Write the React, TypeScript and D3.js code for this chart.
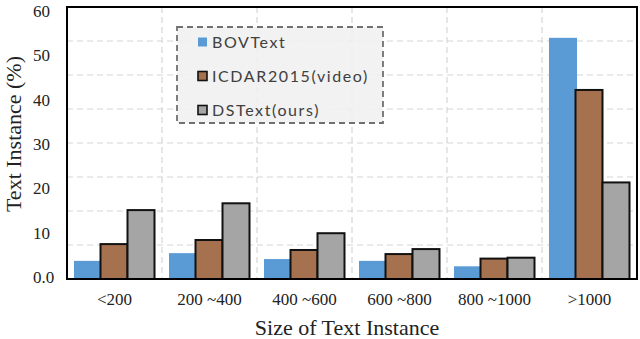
import React from 'react';
import * as d3 from 'd3';

const categories = ['<200', '200 ~400', '400 ~600', '600 ~800', '800 ~1000', '>1000'];
const seriesNames = ['BOVText', 'ICDAR2015(video)', 'DSText(ours)'];
const bovText = [4.0, 5.7, 4.4, 4.0, 2.8, 53.2];
const icdar2015 = [7.7, 8.6, 6.4, 5.5, 4.5, 41.7];
const dsText = [15.2, 16.7, 10.1, 6.6, 4.7, 21.3];
const yTicks = [0, 10, 20, 30, 40, 50, 60];
const yTickLabels = ['0.0', '10', '20', '30', '40', '50', '60'];

const colors = ['#5b9bd5', '#a5714e', '#a5a5a5'];
const strokes = ['none', '#111', '#111'];

const W = 640;
const H = 339;
const m = { left: 67, right: 637, top: 7, bottom: 279 };
const serif = "'Liberation Serif', 'Times New Roman', serif";

const App = () => {
  const values = [bovText, icdar2015, dsText];

  const x0 = d3.scaleBand().domain(categories).range([m.left, m.right]).padding(0);
  const x1 = d3.scaleBand().domain(seriesNames).range([7, x0.bandwidth() - 7]).padding(0);
  const y = d3.scaleLinear().domain([0, 60]).range([m.bottom, m.top]);
  // the tick labels in the original sit slightly off the value scale
  const yLab = d3.scaleLinear().domain([0, 60]).range([283, 17]);

  // grid lines are every 7.5 units (8 steps), labels every 10
  const gridVals = d3.range(7.5, 60, 7.5);

  return (
    <svg width={W} height={H} style={{ position: 'absolute', left: 0, top: 0 }}>
      <rect x={0} y={0} width={W} height={H} fill="#fff" />

      {gridVals.map(v => (
        <line key={'h' + v} x1={m.left} x2={m.right} y1={y(v)} y2={y(v)}
          stroke="#d6d6d6" strokeWidth={1.2} strokeDasharray="6,4" />
      ))}
      {categories.slice(1).map(c => (
        <line key={'v' + c} x1={x0(c)} x2={x0(c)} y1={m.top} y2={m.bottom}
          stroke="#d6d6d6" strokeWidth={1.2} strokeDasharray="6,4" />
      ))}

      {categories.map((c, i) => (
        <g key={c} transform={`translate(${x0(c)},0)`}>
          {seriesNames.map((s, k) => (
            <rect key={s}
              x={(x1(s) as number) - (k === 0 ? 0 : 0.5)}
              y={y(values[k][i])}
              width={x1.bandwidth() + (k === 0 ? 1 : 0)}
              height={y(0) - y(values[k][i])}
              fill={colors[k]}
              stroke={strokes[k]}
              strokeWidth={2} />
          ))}
        </g>
      ))}

      <rect x={m.left} y={m.top} width={m.right - m.left} height={m.bottom - m.top}
        fill="none" stroke="#000" strokeWidth={2} />

      {/* legend */}
      <g>
        <rect x={177} y={27} width={206} height={96} fill="#f0f0f0" fillOpacity={0.88}
          stroke="#707070" strokeWidth={1.8} strokeDasharray="6,4" />
        {seriesNames.map((s, k) => (
          <g key={s} transform={`translate(198,${42 + k * 34})`}>
            <rect x={0} y={-4.5} width={9} height={9} fill={colors[k]}
              stroke={strokes[k]} strokeWidth={k === 0 ? 0 : 1.6} />
            <text x={14} y={6} fontFamily="Lato, 'Open Sans', sans-serif" fontSize={16}
              letterSpacing={1.6} fill="#404040">{s}</text>
          </g>
        ))}
      </g>

      {yTicks.map((t, i) => (
        <text key={t} x={33} y={yLab(t)} fontFamily={serif} fontSize={17} fill="#222">{yTickLabels[i]}</text>
      ))}

      {categories.map(c => (
        <text key={c} x={(x0(c) as number) + x0.bandwidth() / 2} y={305} textAnchor="middle"
          fontFamily={serif} fontSize={17} fill="#222">{c}</text>
      ))}

      <text x={347} y={335} textAnchor="middle" fontFamily={serif} fontSize={22} fill="#222">
        Size of Text Instance
      </text>
      <text transform={`translate(21,134) rotate(-90)`} textAnchor="middle"
        fontFamily={serif} fontSize={22} fill="#222">Text Instance (%)</text>
    </svg>
  );
};

export default App;
